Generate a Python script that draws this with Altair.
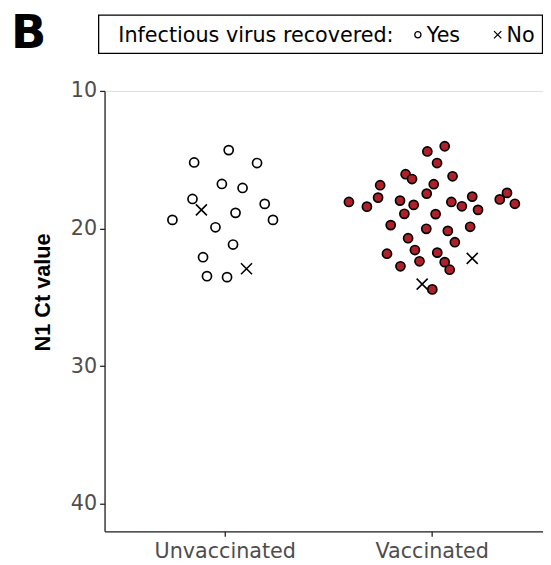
import altair as alt
import pandas as pd

# ---- data ----
# Unvaccinated, infectious virus recovered (open circles)
unvax_yes_x = [1.019, 0.852, 1.156, 0.986, 1.086, 0.844, 1.193, 1.052, 0.747, 1.233,
               0.955, 1.040, 0.895, 0.914, 1.011]
unvax_yes_ct = [14.30, 15.20, 15.24, 16.76, 17.05, 17.85, 18.21, 18.86, 19.37, 19.37,
                19.91, 21.16, 22.08, 23.46, 23.53]
# Unvaccinated, not recovered (crosses)
unvax_no_x = [0.887, 1.105]
unvax_no_ct = [18.64, 22.92]
# Vaccinated, recovered (filled red circles)
vax_yes_x = [2.063, 1.979, 2.026, 1.874, 1.905, 2.101, 1.751, 2.010, 1.976, 1.741,
             1.600, 1.687, 1.847, 1.913, 2.095, 2.146, 2.196, 2.224, 2.364, 2.329,
             2.402, 1.868, 2.019, 1.802, 1.974, 2.078, 2.186, 1.886, 2.112, 1.784,
             1.919, 2.027, 1.941, 2.063, 1.849, 2.087, 2.003]
vax_yes_ct = [14.02, 14.40, 15.24, 16.05, 16.40, 16.20, 16.85, 16.78, 17.46, 17.75,
              18.07, 18.41, 17.97, 18.28, 18.07, 18.38, 17.68, 18.64, 17.41, 17.88,
              18.20, 18.93, 18.95, 19.75, 20.02, 20.17, 19.87, 20.70, 20.99, 21.83,
              21.56, 21.75, 22.38, 22.44, 22.74, 22.99, 24.42]
# Vaccinated, not recovered (crosses)
vax_no_x = [2.196, 1.954]
vax_no_ct = [22.17, 24.04]

categories = ["Unvaccinated", "Vaccinated"]
y_ticks = [10, 20, 30, 40]
legend_title = "Infectious virus recovered:"
legend_labels = ["Yes", "No"]
panel_label = "B"

FONT = "DejaVu Sans"
TFONT = "Liberation Sans"
RED = "#B0202A"
CROSS = "M-1,-1L1,1M-1,1L1,-1"
FS = 21

def frame(xs, ys, group, rec):
    return pd.DataFrame({"x": xs, "ct": ys, "group": group, "recovered": rec})

df_uy = frame(unvax_yes_x, unvax_yes_ct, categories[0], "Yes")
df_un = frame(unvax_no_x, unvax_no_ct, categories[0], "No")
df_vy = frame(vax_yes_x, vax_yes_ct, categories[1], "Yes")
df_vn = frame(vax_no_x, vax_no_ct, categories[1], "No")

xscale = alt.Scale(domain=[0.419, 2.538], nice=False, zero=False)
yscale = alt.Scale(domain=[10, 42], reverse=True, nice=False, zero=False)

label_expr = ("datum.value == 1 ? '" + categories[0] + "' : (datum.value == 2 ? '"
              + categories[1] + "' : '')")

xenc = alt.X("x:Q", scale=xscale,
             axis=alt.Axis(values=[1, 2], labelExpr=label_expr, title=None, grid=False,
                           tickSize=5, tickColor="#222222", domainColor="#222222",
                           domainWidth=1.3, tickWidth=1.3,
                           labelFontSize=FS, labelColor="#4d4d4d", labelFont=FONT,
                           labelPadding=5, labelFlush=False, labelOverlap=False))
yenc = alt.Y("ct:Q", scale=yscale,
             axis=alt.Axis(values=y_ticks, title="N1 Ct value", grid=False,
                           tickSize=5, tickColor="#222222", domainColor="#222222",
                           domainWidth=1.3, tickWidth=1.3,
                           labelFontSize=FS, labelColor="#4d4d4d", labelFont=FONT,
                           labelPadding=3,
                           titleFont=TFONT, titleFontSize=22, titleFontWeight="bold",
                           titleColor="black", titleX=-63, titleY=204,
                           titleAngle=270, titleAlign="center",
                           titleBaseline="middle"))

open_pts = alt.Chart(df_uy).mark_circle(
    size=85, fill="white", stroke="black", strokeWidth=1.7, opacity=1
).encode(x=xenc, y=yenc)

red_pts = alt.Chart(df_vy).mark_circle(
    size=85, fill=RED, stroke="black", strokeWidth=1.7, opacity=1
).encode(x="x:Q", y="ct:Q")

cross_pts = alt.Chart(pd.concat([df_un, df_vn])).mark_point(
    shape=CROSS, size=125, filled=False, stroke="black", strokeWidth=1.6, opacity=1
).encode(x="x:Q", y="ct:Q")

# ---- legend box and panel letter (annotations) ----
box = alt.Chart(pd.DataFrame({"k": [0]})).mark_rect(
    fill="white", stroke="black", strokeWidth=1.3
).encode(x=alt.value(-6), x2=alt.value(444.5), y=alt.value(-77), y2=alt.value(-38))

leg_title = alt.Chart(pd.DataFrame({"t": [legend_title]})).mark_text(
    align="left", baseline="alphabetic", font=FONT, fontSize=FS, color="black"
).encode(x=alt.value(14), y=alt.value(-50), text="t:N")

leg_circle = alt.Chart(pd.DataFrame({"k": [0]})).mark_point(
    shape="circle", size=40, filled=False, stroke="black", strokeWidth=1.3, opacity=1
).encode(x=alt.value(318), y=alt.value(-57))

leg_yes = alt.Chart(pd.DataFrame({"t": [legend_labels[0]]})).mark_text(
    align="left", baseline="alphabetic", font=FONT, fontSize=FS, color="black"
).encode(x=alt.value(327), y=alt.value(-50), text="t:N")

leg_cross = alt.Chart(pd.DataFrame({"k": [0]})).mark_point(
    shape=CROSS, size=55, filled=False, stroke="black", strokeWidth=1.3, opacity=1
).encode(x=alt.value(399), y=alt.value(-57))

leg_no = alt.Chart(pd.DataFrame({"t": [legend_labels[1]]})).mark_text(
    align="left", baseline="alphabetic", font=FONT, fontSize=FS, color="black"
).encode(x=alt.value(408), y=alt.value(-50), text="t:N")

letter = alt.Chart(pd.DataFrame({"t": [panel_label]})).mark_text(
    align="left", baseline="alphabetic", font=FONT, fontSize=47, fontWeight="bold",
    color="black"
).encode(x=alt.value(-95), y=alt.value(-43.5), text="t:N")

chart = alt.layer(
    open_pts, red_pts, cross_pts, box, leg_title, leg_circle, leg_yes, leg_cross,
    leg_no, letter
).properties(
    width=445, height=447,
    autosize=alt.AutoSizeParams(type="none"),
    padding={"left": 98, "top": 80, "right": 0, "bottom": 30},
).configure_view(stroke=None).configure(background="white")

chart.save("out.html", embed_options={"renderer": "svg", "actions": False})
